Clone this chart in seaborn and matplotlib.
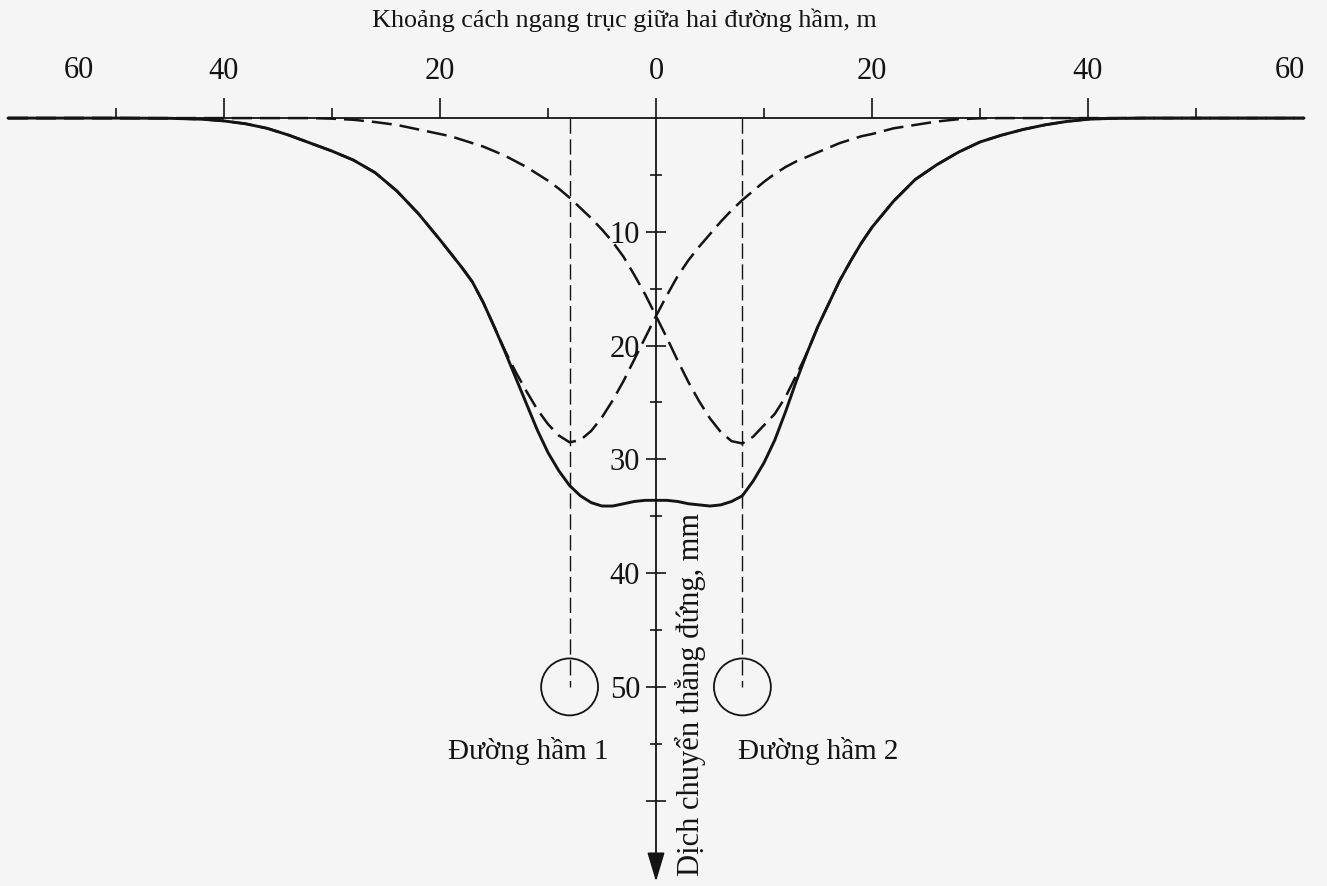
import matplotlib
matplotlib.use('Agg')
import matplotlib.pyplot as plt
import seaborn as sns

# horizontal distance from the axis between the two tunnels, m
x_dist = ([-60, -50, -45, -42, -40, -38, -36, -34, -32, -30, -28, -26, -24, -22]
          + list(range(-20, 21))
          + [22, 24, 26, 28, 30, 32, 34, 36, 38, 40, 42, 45, 50, 60])

# surface settlement, mm
settle_both = [0, 0, 0.02, 0.1, 0.25, 0.5, 0.9, 1.5, 2.2, 2.9, 3.7, 4.8, 6.4, 8.4,
               10.7, 11.9, 13.1, 14.4, 16.2, 18.3, 20.5, 22.8, 25.1, 27.4, 29.4, 31.0, 32.3,
               33.2, 33.8, 34.1, 34.1, 33.9, 33.7, 33.6,
               33.6, 33.6, 33.7, 33.9, 34.0, 34.1, 34.0, 33.7, 33.2, 31.9, 30.3, 28.3, 25.8,
               23.1, 20.6, 18.3, 16.3, 14.3, 12.6, 11.0, 9.6,
               7.3, 5.4, 4.1, 3.0, 2.1, 1.5, 1.0, 0.6, 0.3, 0.1, 0.03, 0, 0, 0]
settle_t1 = [0, 0, 0.02, 0.1, 0.25, 0.5, 0.9, 1.5, 2.2, 2.9, 3.7, 4.8, 6.4, 8.4,
             10.7, 11.9, 13.1, 14.4, 16.2, 18.3, 20.4, 22.3, 24.0, 25.6, 26.9, 27.9, 28.5,
             28.3, 27.5, 26.3, 24.8, 23.1, 21.2, 19.3,
             17.4, 15.6, 13.9, 12.5, 11.3, 10.2, 9.1, 8.1, 7.2, 6.4, 5.6, 4.9, 4.3,
             3.8, 3.4, 3.0, 2.6, 2.2, 1.9, 1.6, 1.4,
             0.9, 0.6, 0.3, 0.1, 0.02, 0, 0, 0, 0, 0, 0, 0, 0, 0]
settle_t2 = [0, 0, 0, 0, 0, 0, 0, 0, 0, 0.05, 0.15, 0.35, 0.6, 1.0,
             1.4, 1.6, 1.9, 2.2, 2.5, 2.9, 3.3, 3.8, 4.3, 4.9, 5.5, 6.2, 7.0,
             7.9, 8.8, 9.8, 10.9, 12.2, 13.8, 15.5,
             17.4, 19.3, 21.3, 23.2, 24.9, 26.4, 27.6, 28.4, 28.6, 28.0, 27.0, 26.0, 24.5,
             22.6, 20.6, 18.3, 16.3, 14.3, 12.6, 11.0, 9.6,
             7.3, 5.4, 4.1, 3.0, 2.1, 1.5, 1.0, 0.6, 0.3, 0.1, 0.03, 0, 0, 0]

tunnel_x = [-8, 8]
tunnel_depth = [50, 50]
tunnel_names = ['Đường hầm 1', 'Đường hầm 2']
name_x = [-11.8, 15.0]

x_major = [-40, -20, 0, 20, 40]
x_minor = [-50, -30, -10, 10, 30, 50]
x_end_labels = [-53.4, 58.7]
y_major = [10, 20, 30, 40, 50, 60]
y_minor = [5, 15, 25, 35, 45, 55, 65]

sns.set_theme(style='white')
plt.rcParams['font.family'] = ['Liberation Serif', 'DejaVu Serif']
ink = '#141414'
paper = '#f5f5f5'

fig = plt.figure(figsize=(13.27, 8.86), dpi=100, facecolor=paper)
ax = fig.add_axes([0, 0, 1, 1], facecolor=paper)
ax.set_xlim(-60.74, 62.13)
ax.set_ylim(67.5, -10.38)

# individual tunnels (dashed) and both tunnels together (solid)
for s in [settle_t1, settle_t2]:
    sns.lineplot(x=x_dist, y=s, ax=ax, color=ink, lw=1.8, sort=False,
                 estimator=None, linestyle=(0, (8, 3.2)), dash_joinstyle='round')
sns.lineplot(x=x_dist, y=settle_both, ax=ax, color=ink, lw=2.1, sort=False,
             estimator=None, solid_joinstyle='round')

ax.vlines(tunnel_x, 0, tunnel_depth, colors=ink, lw=1.0, linestyles=(0, (11, 4)))
sns.scatterplot(x=tunnel_x, y=tunnel_depth, ax=ax, s=1680, marker='o',
                facecolor='none', edgecolor=ink, linewidth=1.3, zorder=3)
for nx, name in zip(name_x, tunnel_names):
    ax.text(nx, 55.6, name, ha='center', va='center', fontsize=21, color=ink)

# axes through the origin
for side in ['right', 'bottom']:
    ax.spines[side].set_visible(False)
ax.spines['top'].set_position(('data', 0))
ax.spines['top'].set_bounds(-60, 60)
ax.spines['left'].set_position(('data', 0))
ax.spines['left'].set_bounds(0, 65)
for side in ['top', 'left']:
    ax.spines[side].set_color(ink)
    ax.spines[side].set_linewidth(1.3)

ax.xaxis.set_ticks_position('top')
ax.set_xticks(x_major, [str(abs(v)) for v in x_major])
ax.set_xticks(x_minor, minor=True)
ax.tick_params(axis='x', which='major', top=True, direction='out', length=14.4, width=1.2,
               pad=9, labelsize=22, colors=ink)
ax.tick_params(axis='x', which='minor', top=True, direction='out', length=7.5, width=1.2,
               colors=ink)

ax.yaxis.set_ticks_position('left')
ax.set_yticks(y_major, [str(v) if v <= 50 else '' for v in y_major])
ax.set_yticks(y_minor, minor=True)
ax.tick_params(axis='y', which='major', left=True, direction='inout', length=14.4, width=1.2,
               pad=4.3, labelsize=22, colors=ink)
ax.tick_params(axis='y', which='minor', left=True, direction='inout', length=8.6, width=1.2,
               colors=ink)

for xv in x_end_labels:
    ax.text(xv, -2.9, '60', ha='center', va='bottom', fontsize=22, color=ink)

ax.annotate('', xy=(0, 67.35), xytext=(0, 64.5),
            arrowprops=dict(arrowstyle='-|>,head_length=0.6,head_width=0.18',
                            mutation_scale=30, color=ink, lw=1.3))

ax.text(-2.9, -8.6, 'Khoảng cách ngang trục giữa hai đường hầm, m',
        ha='center', va='center', fontsize=18.8, color=ink)
ax.text(3.2, 50.7, 'Dịch chuyển thẳng đứng, mm', rotation=90,
        ha='center', va='center', fontsize=22, color=ink)

fig.savefig('out.png', dpi=100, facecolor=paper)
